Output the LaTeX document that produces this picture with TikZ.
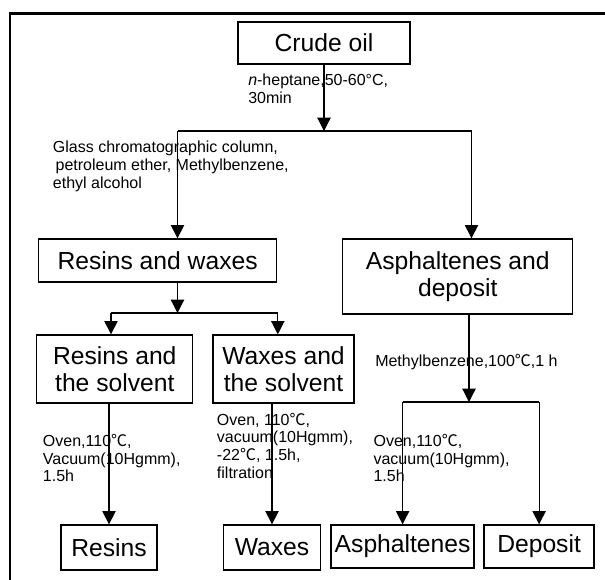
\documentclass[tikz,border=0pt]{standalone}
\usepackage{fontspec}
\setmainfont{Liberation Sans}
\newfontfamily\cjk{Noto Sans CJK SC}
\usetikzlibrary{arrows.meta}
\newcommand{\degc}{{\cjk ℃}}
\tikzset{
  stagebox/.style={draw, line width=1pt, inner sep=0pt, align=center,
    font=\fontsize{18.5}{20.5}\selectfont},
  note/.style={inner sep=0pt, align=left, anchor=base west,
    font=\fontsize{12}{13.2}\selectfont},
  flow/.style={line width=0.9pt},
  flowarr/.style={flow, -{Triangle[length=10pt,width=10pt]}}
}
\begin{document}
\begin{tikzpicture}[x=0.75pt,y=-0.75pt]
      \useasboundingbox (0,0) rectangle (605,579);
      \draw[line width=1.6pt] (10,590) -- (10,13.5) -- (615,13.5);

      \node[stagebox, minimum width=129pt, minimum height=31.5pt] (crude) at (324,43) {Crude oil};
      \node[stagebox, minimum width=178.5pt, minimum height=32.25pt] (rw) at (157.6,260.5) {Resins and waxes};
      \node[stagebox, minimum width=172.5pt, minimum height=56.25pt] (ad) at (457.8,276.5) {Asphaltenes and\\deposit};
      \node[stagebox, minimum width=117pt, minimum height=51pt] (rs) at (114.8,369) {Resins and\\the solvent};
      \node[stagebox, minimum width=105.75pt, minimum height=51pt] (ws) at (283.5,369) {Waxes and\\the solvent};
      \node[stagebox, minimum width=72pt, minimum height=33.75pt] (res) at (109,547.5) {Resins};
      \node[stagebox, minimum width=72.4pt, minimum height=33.75pt] (wax) at (272,547.5) {Waxes};
      \node[stagebox, minimum width=107.25pt, minimum height=32.25pt] (asp) at (402.6,546.5) {Asphaltenes};
      \node[stagebox, minimum width=82.5pt, minimum height=32.25pt] (dep) at (539.1,546.5) {Deposit};

      \coordinate (split1) at (324,131);
      \coordinate (toRW) at (177.5,131);
      \coordinate (toAD) at (471.5,131);
      \coordinate (split2) at (177.5,313);
      \coordinate (toRS) at (111,313);
      \coordinate (toWS) at (277.8,313);
      \coordinate (split3) at (469,402);

      \draw[flowarr] (crude.south) -- (split1);
      \draw[flow] (toRW) -- (toAD);
      \draw[flowarr] (toRW) -- (toRW |- rw.north);
      \draw[flowarr] (toAD) -- (toAD |- ad.north);

      \draw[flowarr] (rw.south -| split2) -- (split2);
      \draw[flow] (toRS) -- (toWS);
      \draw[flowarr] (toRS) -- (toRS |- rs.north);
      \draw[flowarr] (toWS) -- (toWS |- ws.north);
      \draw[flowarr] (rs.south -| res.north) -- (res.north);
      \draw[flowarr] (ws.south -| wax.north) -- (wax.north);

      \draw[flowarr] (ad.south -| split3) -- (split3);
      \draw[flow] (asp.north |- split3) -- (dep.north |- split3);
      \draw[flowarr] (asp.north |- split3) -- (asp.north);
      \draw[flowarr] (dep.north |- split3) -- (dep.north);

      \node[note] (heptane) at (248,103) {\textit{n}-heptane,50-60°C,\\30min};
      \node[note] (column) at (52.7,188) {Glass chromatographic column,\\\hspace*{2pt}petroleum ether, Methylbenzene,\\ethyl alcohol};
      \node[note] (dissolve) at (375,366.7) {Methylbenzene,100\degc,1 h};
      \node[note] (dryresin) at (42.7,481.7) {Oven,110\degc,\\Vacuum(10Hgmm),\\1.5h};
      \node[note] (drywax) at (216.7,478) {Oven, 110\degc,\\vacuum(10Hgmm),\\-22\degc, 1.5h,\\filtration};
      \node[note] (dryasph) at (373.3,481.7) {Oven,110\degc,\\vacuum(10Hgmm),\\1.5h};
   \end{tikzpicture}
\end{document}
